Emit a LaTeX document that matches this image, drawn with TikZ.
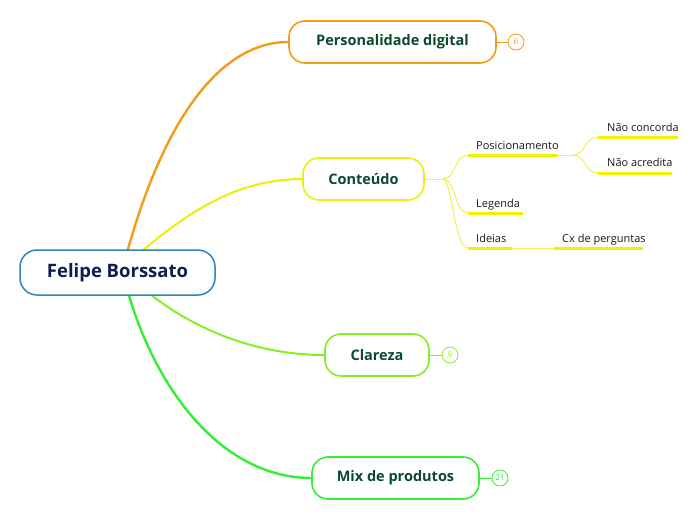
\documentclass[tikz,border=0pt]{standalone}
\usepackage{fontspec}
\setmainfont{Open Sans}
\usetikzlibrary{calc}
\definecolor{corange}{HTML}{F59A1B}
\definecolor{cyellow}{HTML}{EDEE0A}
\definecolor{clime}{HTML}{86EE22}
\definecolor{cgreen}{HTML}{35EE35}
\definecolor{cblue}{HTML}{2E86C1}
\definecolor{ctxt}{HTML}{0B4A2C}
\definecolor{croot}{HTML}{0E1F4D}
\definecolor{culine}{HTML}{F0F000}
\definecolor{cthin}{HTML}{F0F050}
\tikzset{
  rootbox/.style={draw=cblue, line width=1.5pt, fill=white, rounded corners=17pt,
    minimum width=195pt, minimum height=45pt, text=croot, font=\fontsize{18.5}{22}\selectfont\bfseries},
  topicbox/.style={draw=#1, line width=1.6pt, fill=white, rounded corners=16pt,
    minimum height=42pt, text=ctxt, font=\fontsize{14.5}{17}\selectfont\bfseries},
  badge/.style={draw=#1, line width=0.8pt, circle, inner sep=0pt, minimum size=16pt,
    text=#1, font=\fontsize{8}{9}\selectfont},
  subtxt/.style={anchor=base west, inner sep=0pt, text=black!90, font=\fontsize{11}{13}\selectfont},
  uline/.style={draw=culine, line width=3pt},
  thin/.style={draw=cthin, line width=1pt},
  mainline/.style={draw=#1, line width=2pt},
}
\begin{document}
\begin{tikzpicture}[x=1pt,y=-1pt]
\useasboundingbox (0,0) rectangle (696,520);
% topics
\node[topicbox=corange, minimum width=207pt] (pd) at (392.5,42) {Personalidade digital};
\node[topicbox=cyellow, minimum width=121pt] (ct) at (363.5,179) {Conteúdo};
\node[topicbox=clime, minimum width=104pt] (cl) at (377,355) {Clareza};
\node[topicbox=cgreen, minimum width=167pt] (mx) at (395.5,478) {Mix de produtos};
% badges
\node[badge=corange] (b6) at (516,42) {6};
\node[badge=clime] (b9) at (450,355) {9};
\node[badge=cgreen] (b21) at (500,478) {21};
\draw[corange, line width=1pt] (pd.east) -- (b6.west);
\draw[clime, line width=1pt] (cl.east) -- (b9.west);
\draw[cgreen, line width=1pt] (mx.east) -- (b21.west);
% main connectors
\coordinate (o0) at (127.5,251);
\coordinate (y0) at (142,251);
\coordinate (l0) at (150,294);
\coordinate (g0) at (128.5,294);
\draw[mainline=corange, line width=2.4pt] (o0) .. controls (164,120) and (220,42) .. (pd.west);
\draw[mainline=cyellow] (y0) .. controls (192,209) and (240,179) .. (ct.west);
\draw[mainline=clime] (l0) .. controls (198,332) and (260,355) .. (cl.west);
\draw[mainline=cgreen, line width=2.4pt] (g0) .. controls (160,400) and (228,478) .. (mx.west);
% root
\node[rootbox] (root) at (117.5,272.5) {Felipe Borssato};
% subtopics
\node[subtxt] (pos) at (476,149) {Posicionamento};
\node[subtxt] (leg) at (476,207) {Legenda};
\node[subtxt] (ide) at (476,242) {Ideias};
\node[subtxt] (cx) at (562,242) {Cx de perguntas};
\node[subtxt] (nc) at (607,131) {Não concorda};
\node[subtxt] (na) at (607,166) {Não acredita};
\coordinate (posL) at (468,155); \coordinate (posR) at (557,155);
\coordinate (legL) at (468,213); \coordinate (legR) at (523,213);
\coordinate (ideL) at (468,248); \coordinate (ideR) at (512,248);
\coordinate (cxL) at (554,248); \coordinate (cxR) at (643,248);
\coordinate (ncL) at (598,137); \coordinate (ncR) at (678,137);
\coordinate (naL) at (598,173); \coordinate (naR) at (672,173);
\coordinate (j1) at (443,179);
\coordinate (j2) at (573,155);
\draw[thin] (ct.east) -- (j1);
\draw[thin] (j1) .. controls (456,179) and (454,155) .. (posL);
\draw[thin] (j1) .. controls (456,179) and (454,213) .. (legL);
\draw[thin] (j1) .. controls (452,179) and (454,248) .. (ideL);
\draw[thin] (posR) -- (j2);
\draw[thin] (j2) .. controls (586,155) and (584,137) .. (ncL);
\draw[thin] (j2) .. controls (586,155) and (584,173) .. (naL);
\draw[thin] (ideR) -- (cxL);
\foreach \n in {pos,leg,ide,cx,nc,na}{\draw[uline] (\n L) -- (\n R);}
\end{tikzpicture}
\end{document}
